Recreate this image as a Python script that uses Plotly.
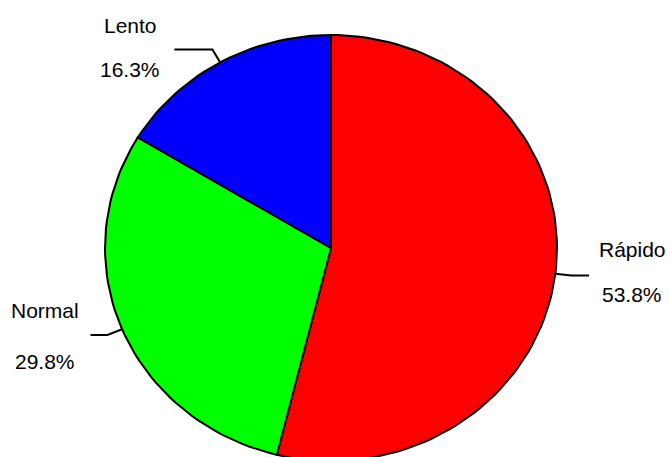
import numpy as np
import plotly.graph_objects as go

# Data
categories = ["Rápido", "Normal", "Lento"]
values = [53.8, 29.8, 16.3]
pct_labels = ["53.8%", "29.8%", "16.3%"]
colors = ["#FF0000", "#00FF00", "#0000FF"]

# Layout parameters (pixel geometry of the plot)
W, H = 670, 457
CX, CY = 331, 248      # pie centre in px
RX, RY = 226, 213      # px per unit radius
EDGES = 200

# per-label leader horizontal length (px, signed) and text offsets
lead_len = [18, -17, -38]
text_dx = [43, -45, -44]
text_up = [26, 24, 24]
text_dn = [19, 27, 20]

fig = go.Figure()

total = sum(values)
cum = np.concatenate([[0], np.cumsum(values) / total])

def pt(frac, r=1.0):
    ang = 2 * np.pi * frac  # clockwise from 12 o'clock
    return r * np.sin(ang), r * np.cos(ang)

for i, cat in enumerate(categories):
    a0, a1 = cum[i], cum[i + 1]
    n = max(2, int(np.floor(EDGES * (a1 - a0))))
    fr = np.linspace(a0, a1, n)
    xs = [0] + [pt(f)[0] for f in fr] + [0]
    ys = [0] + [pt(f)[1] for f in fr] + [0]
    fig.add_trace(go.Scatter(x=xs, y=ys, mode="lines", fill="toself",
                             fillcolor=colors[i],
                             line=dict(color="black", width=2),
                             hoverinfo="skip", showlegend=False))

for i, cat in enumerate(categories):
    mid = (cum[i] + cum[i + 1]) / 2
    ex, ey = pt(mid, 1.0)
    kx, ky = pt(mid, 1.07)
    hx = kx + lead_len[i] / RX
    fig.add_trace(go.Scatter(x=[ex, kx, hx], y=[ey, ky, ky], mode="lines",
                             line=dict(color="black", width=2),
                             hoverinfo="skip", showlegend=False))
    tx = hx + text_dx[i] / RX
    fig.add_annotation(x=tx, y=ky, text=cat, showarrow=False,
                       xanchor="center", yanchor="middle", yshift=text_up[i],
                       font=dict(family="Liberation Sans, Arial", size=21, color="black"))
    fig.add_annotation(x=tx, y=ky, text=pct_labels[i], showarrow=False,
                       xanchor="center", yanchor="middle", yshift=-text_dn[i],
                       font=dict(family="Liberation Sans, Arial", size=21, color="black"))

fig.update_layout(
    width=W, height=H,
    margin=dict(l=0, r=0, t=0, b=0),
    paper_bgcolor="white", plot_bgcolor="white",
    xaxis=dict(range=[-CX / RX, (W - CX) / RX], visible=False, fixedrange=True),
    yaxis=dict(range=[(CY - H) / RY, CY / RY], visible=False, fixedrange=True),
    showlegend=False,
)

fig.write_html("out.html", post_script="document.body.style.margin='0';",
               config={"displayModeBar": False})
